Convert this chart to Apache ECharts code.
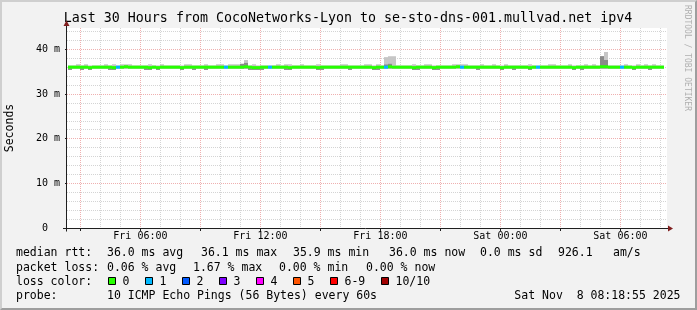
<!DOCTYPE html>
<html>
<head>
<meta charset="utf-8">
<script src="https://cdn.jsdelivr.net/npm/echarts@6.0.0/dist/echarts.min.js"></script>
<style>
html,body{margin:0;padding:0;background:#f2f2f2;overflow:hidden}
#wrap{position:relative;width:697px;height:310px}
#chart{position:absolute;left:0;top:0;width:697px;height:310px}
#frame{position:absolute;left:0;top:0;width:697px;height:310px;box-sizing:border-box;border-style:solid;border-width:2px;border-color:#cfcfcf #9e9e9e #9e9e9e #cfcfcf;pointer-events:none}
</style>
</head>
<body>
<div id="wrap"><div id="chart"></div><div id="frame"></div></div>
<script>
// ---------------- data ----------------
const titleText = 'Last 30 Hours from CocoNetworks-Lyon to se-sto-dns-001.mullvad.net ipv4';
// x axis: hours since Fri 00:00
const X_MIN = 2.33, X_MAX = 32.33;
const STEP0 = 2.38, STEP_H = 0.2;           // one RRD step = 12 min
const xTickHours  = [6, 12, 18, 24, 30];
const xTickLabels = ['Fri 06:00', 'Fri 12:00', 'Fri 18:00', 'Sat 00:00', 'Sat 06:00'];
const xMajorHours = [3, 6, 9, 12, 15, 18, 21, 24, 27, 30];
const xMinorHours = [4, 5, 7, 8, 10, 11, 13, 14, 16, 17, 19, 20, 22, 23, 25, 26, 28, 29, 31, 32];
// y axis: milliseconds
const Y_MAX = 44.77;
const yLabelValues = [0, 10, 20, 30, 40];
const yLabelTexts  = ['0  ', '10 m', '20 m', '30 m', '40 m'];
const yMajorValues = [10, 20, 30, 40];
const yMinorValues = [2, 4, 6, 8, 12, 14, 16, 18, 22, 24, 26, 28, 32, 34, 36, 38, 42, 44];

const median = [
36.0,36.0,36.0,36.0,36.0,35.9,36.0,36.0,36.0,36.0,
36.0,35.9,36.0,36.0,36.1,36.0,36.0,36.0,36.0,36.0,
35.9,36.0,35.9,36.0,36.0,36.0,36.0,36.0,35.9,36.0,
36.0,36.0,36.0,36.0,36.0,36.0,36.0,36.0,36.0,36.0,
36.0,36.0,36.0,36.0,36.1,36.0,35.9,35.9,36.0,36.0,
36.0,36.0,36.0,36.0,36.0,35.9,36.0,36.0,36.0,36.0,
36.0,36.0,35.9,36.0,36.0,36.0,36.0,36.0,36.0,36.0,
36.0,36.0,36.0,36.0,36.0,36.0,35.9,36.0,36.0,36.0,
36.1,36.0,36.0,36.0,36.0,36.0,35.9,36.0,36.0,36.0,
36.0,35.9,36.0,36.0,36.0,36.0,36.0,36.1,36.0,36.0,
36.0,36.0,36.0,36.0,36.0,36.0,36.0,36.0,35.9,36.0,
36.0,36.0,36.0,36.0,36.0,35.9,36.0,36.0,36.0,36.0,
36.0,36.0,36.0,36.0,36.0,36.0,35.9,36.0,36.0,36.0,
36.0,36.0,36.0,36.1,36.1,36.0,36.0,36.0,36.0,36.0,
36.0,35.9,36.0,36.0,36.0,36.0,36.0,36.0,36.0
];
const lossCount = [
0,0,0,0,0,0,0,0,0,0,
0,0,1,0,0,0,0,0,0,0,
0,0,0,0,0,0,0,0,0,0,
0,0,0,0,0,0,0,0,0,1,
0,0,0,0,0,0,0,0,0,0,
1,0,0,0,0,0,0,0,0,0,
0,0,0,0,0,0,0,0,0,0,
0,0,0,0,0,0,0,0,0,1,
0,0,0,0,0,0,0,0,0,0,
0,0,0,0,0,0,0,0,1,0,
0,0,0,0,0,0,0,0,0,0,
0,0,0,0,0,0,0,1,0,0,
0,0,0,0,0,0,0,0,0,0,
0,0,0,0,0,0,0,0,1,0,
0,0,0,0,0,0,0,0,0
];
const smokeHi = [
36.4,36.4,36.65,36.4,36.65,36.4,36.4,36.4,36.4,36.65,
36.4,36.65,36.4,36.65,36.65,36.65,36.4,36.4,36.4,36.4,
36.65,36.4,36.4,36.65,36.4,36.4,36.4,36.4,36.4,36.65,
36.65,36.4,36.4,36.4,36.65,36.4,36.4,36.65,36.65,36.4,
36.65,36.65,36.65,36.75,37.6,36.4,36.65,36.4,36.4,36.4,
36.4,36.4,36.65,36.4,36.65,36.65,36.4,36.4,36.65,36.4,
36.4,36.4,36.65,36.4,36.4,36.4,36.4,36.4,36.65,36.65,
36.4,36.4,36.4,36.4,36.65,36.65,36.4,36.65,36.4,38.25,
38.45,38.45,36.4,36.4,36.4,36.4,36.65,36.4,36.4,36.65,
36.65,36.4,36.4,36.4,36.4,36.4,36.65,36.65,36.65,36.65,
36.4,36.4,36.4,36.65,36.4,36.4,36.65,36.4,36.4,36.65,
36.4,36.4,36.4,36.4,36.4,36.65,36.4,36.4,36.4,36.4,
36.65,36.65,36.4,36.4,36.4,36.65,36.4,36.4,36.4,36.65,
36.4,36.65,36.4,38.5,39.4,36.4,36.4,36.4,36.4,36.65,
36.4,36.4,36.65,36.4,36.65,36.4,36.65,36.4,36.4
];
const smokeLo = [
35.4,35.6,35.6,35.4,35.6,35.4,35.6,35.6,35.6,35.6,
35.4,35.4,35.6,35.6,35.6,35.6,35.6,35.6,35.6,35.4,
35.4,35.6,35.4,35.6,35.6,35.6,35.6,35.6,35.4,35.6,
35.6,35.4,35.6,35.6,35.4,35.6,35.6,35.6,35.6,35.6,
35.6,35.6,35.6,35.6,35.6,35.4,35.4,35.4,35.4,35.6,
35.6,35.6,35.6,35.6,35.4,35.4,35.6,35.6,35.6,35.6,
35.6,35.6,35.4,35.4,35.6,35.6,35.6,35.6,35.6,35.6,
35.4,35.6,35.6,35.6,35.6,35.6,35.4,35.4,35.6,35.6,
35.6,35.6,35.6,35.6,35.6,35.6,35.4,35.4,35.6,35.6,
35.6,35.4,35.4,35.6,35.6,35.6,35.6,35.6,35.6,35.6,
35.6,35.6,35.4,35.6,35.6,35.6,35.6,35.6,35.4,35.6,
35.6,35.4,35.6,35.6,35.6,35.4,35.6,35.6,35.6,35.6,
35.6,35.6,35.6,35.6,35.6,35.6,35.4,35.6,35.4,35.6,
35.6,35.6,35.6,35.6,35.6,35.6,35.6,35.6,35.6,35.6,
35.6,35.4,35.6,35.6,35.6,35.4,35.6,35.6,35.6
];
const N = null;
const darkLo = [
35.4,N,N,35.4,N,35.4,N,N,N,N,
35.4,35.4,N,N,N,N,N,N,N,35.4,
35.4,N,35.4,N,N,N,N,N,35.4,N,
N,35.4,N,N,35.4,N,N,N,N,N,
N,N,N,35.75,35.75,35.4,35.4,35.4,35.4,N,
N,N,N,N,35.4,35.4,N,N,N,N,
N,N,35.4,35.4,N,N,N,N,N,N,
35.4,N,N,N,N,N,35.4,35.4,N,35.75,
35.75,N,N,N,N,N,35.4,35.4,N,N,
N,35.4,35.4,N,N,N,N,N,N,N,
N,N,35.4,N,N,N,N,N,35.4,N,
N,35.4,N,N,N,35.4,N,N,N,N,
N,N,N,N,N,N,35.4,N,35.4,N,
N,N,N,35.75,35.75,N,N,N,N,N,
N,35.4,N,N,N,35.4,N,N,N
];
const darkHi = [
35.75,N,N,35.75,N,35.75,N,N,N,N,
35.75,35.75,N,N,N,N,N,N,N,35.75,
35.75,N,35.75,N,N,N,N,N,35.75,N,
N,35.75,N,N,35.75,N,N,N,N,N,
N,N,N,36.75,36.95,35.75,35.75,35.75,35.75,N,
N,N,N,N,35.75,35.75,N,N,N,N,
N,N,35.75,35.75,N,N,N,N,N,N,
35.75,N,N,N,N,N,35.75,35.75,N,36.6,
36.75,N,N,N,N,N,35.75,35.75,N,N,
N,35.75,35.75,N,N,N,N,N,N,N,
N,N,35.75,N,N,N,N,N,35.75,N,
N,35.75,N,N,N,35.75,N,N,N,N,
N,N,N,N,N,N,35.75,N,35.75,N,
N,N,N,38.45,37.6,N,N,N,N,N,
N,35.75,N,N,N,35.75,N,N,N
];

// legend values
const rttValues = [36.0, 36.1, 35.9, 36.0];
const statNames = ['avg', 'max', 'min', 'now'];
const rttSd = 0.0;
const amPerSec = 926.1;
const lossPctValues = [0.06, 1.67, 0.00, 0.00];
const lossBuckets = ['0', '1', '2', '3', '4', '5', '6-9', '10/10'];
const lossColors  = ['#26ff00', '#00b8ff', '#0059ff', '#7e00ff', '#ff00ff', '#ff5500', '#ff0000', '#a00000'];
const probeText = '10 ICMP Echo Pings (56 Bytes) every 60s';
const stampText = 'Sat Nov  8 08:18:55 2025';

// ---------------- layout ----------------
const MONO = '"DejaVu Sans Mono", "Liberation Mono", monospace';
const G = {left: 67, top: 28, width: 600, height: 200};
const ROW_Y = [253.5, 268, 282, 296];
const ROW1_X = [107, 201, 293, 389];
const ROW2_X = [107, 193, 279, 366];
const BOX_X = [108.5, 145.5, 182.5, 219.5, 256.5, 293.5, 330.5, 381.5];
const GRID_MINOR = '#d4d4d4', GRID_MAJOR = '#efb0b0';

const chart = echarts.init(document.getElementById('chart'), null, {renderer: 'canvas', width: 697, height: 310});

function text(x, y, s, size, opt) {
  opt = opt || {};
  return {
    type: 'text', x: x, y: y, rotation: opt.rotation || 0, z: 20, silent: true,
    style: {
      text: s, font: size + 'px ' + MONO, fill: opt.color || '#000',
      textAlign: opt.align || 'left', align: opt.align || 'left',
      textVerticalAlign: 'middle', verticalAlign: 'middle'
    }
  };
}

const gfx = [];
gfx.push(text(348, 19, titleText, 13.3, {align: 'center'}));
gfx.push(text(687, 5, 'RRDTOOL / TOBI OETIKER', 8, {rotation: -Math.PI / 2, color: '#b0b0b0'}));
gfx.push(text(10, G.top + G.height / 2, 'Seconds', 11.5, {rotation: Math.PI / 2, align: 'center'}));

// axis lines with arrows
const AX = '#1f1f1f', ARROW = '#801f1f';
const yBase = G.top + G.height + 0.5, xBase = G.left - 0.5;
gfx.push({type: 'line', z: 20, silent: true, shape: {x1: G.left - 4, y1: yBase, x2: G.left + G.width + 1, y2: yBase}, style: {stroke: AX, lineWidth: 1}});
gfx.push({type: 'line', z: 20, silent: true, shape: {x1: xBase, y1: yBase + 3, x2: xBase, y2: G.top - 3}, style: {stroke: AX, lineWidth: 1}});
gfx.push({type: 'polygon', z: 21, silent: true, shape: {points: [[G.left + G.width + 1, yBase - 3], [G.left + G.width + 6, yBase], [G.left + G.width + 1, yBase + 3]]}, style: {fill: ARROW}});
gfx.push({type: 'polygon', z: 21, silent: true, shape: {points: [[xBase - 3, G.top - 2], [xBase, G.top - 7.5], [xBase + 3, G.top - 2]]}, style: {fill: ARROW}});

// legend rows
gfx.push(text(16, ROW_Y[0], 'median rtt:', 11.5));
rttValues.forEach((v, i) => gfx.push(text(ROW1_X[i], ROW_Y[0], v.toFixed(1) + ' ms ' + statNames[i], 11.5)));
gfx.push(text(480, ROW_Y[0], rttSd.toFixed(1) + ' ms sd', 11.5));
gfx.push(text(558, ROW_Y[0], amPerSec.toFixed(1), 11.5));
gfx.push(text(613, ROW_Y[0], 'am/s', 11.5));

gfx.push(text(16, ROW_Y[1], 'packet loss:', 11.5));
lossPctValues.forEach((v, i) => gfx.push(text(ROW2_X[i], ROW_Y[1], v.toFixed(2) + ' % ' + statNames[i], 11.5)));

gfx.push(text(16, ROW_Y[2], 'loss color:', 11.5));
lossBuckets.forEach((b, i) => {
  gfx.push({type: 'rect', z: 20, silent: true, shape: {x: BOX_X[i], y: ROW_Y[2] - 4.5, width: 7, height: 7}, style: {fill: lossColors[i], stroke: '#000', lineWidth: 1}});
  gfx.push(text(BOX_X[i] + 14, ROW_Y[2], b, 11.5));
});

gfx.push(text(16, ROW_Y[3], 'probe:', 11.5));
gfx.push(text(107, ROW_Y[3], probeText, 11.5));
gfx.push(text(680.5, ROW_Y[3], stampText, 11.5, {align: 'right'}));

// ---------------- series ----------------
function bandRenderer(color) {
  return function (params, api) {
    const x0 = api.value(0), lo = api.value(1), hi = api.value(2);
    const a = api.coord([x0, hi]);
    const b = api.coord([x0 + STEP_H, lo]);
    return {type: 'rect', shape: {x: a[0], y: a[1], width: b[0] - a[0], height: b[1] - a[1]}, style: {fill: color}};
  };
}
const lightData = median.map((m, i) => [STEP0 + i * STEP_H, smokeLo[i], smokeHi[i]]);
const darkData = [];
darkLo.forEach((v, i) => { if (v !== null) darkData.push([STEP0 + i * STEP_H, v, darkHi[i]]); });
const medianData = median.map((m, i) => [STEP0 + i * STEP_H, m, lossCount[i]]);

function axisX(extra) {
  return Object.assign({type: 'value', min: X_MIN, max: X_MAX, position: 'bottom', gridIndex: 0, axisLine: {show: false}}, extra);
}
function axisY(extra) {
  return Object.assign({type: 'value', min: 0, max: Y_MAX, position: 'left', gridIndex: 0, axisLine: {show: false}}, extra);
}

const option = {
  animation: false,
  backgroundColor: '#f2f2f2',
  textStyle: {fontFamily: MONO},
  grid: {left: G.left, top: G.top, width: G.width, height: G.height, show: true, backgroundColor: '#ffffff', borderWidth: 0, containLabel: false, outerBoundsMode: 'none'},
  xAxis: [
    axisX({
      axisTick: {show: false, customValues: xMinorHours},
      axisLabel: {show: true, customValues: xTickHours, formatter: v => xTickLabels[xTickHours.indexOf(v)], margin: 3, fontFamily: MONO, fontSize: 10, color: '#000'},
      splitLine: {show: true, lineStyle: {color: GRID_MINOR, width: 1, type: [1, 1]}}
    }),
    axisX({
      axisTick: {show: true, customValues: xMajorHours, length: 3, lineStyle: {color: AX}},
      axisLabel: {show: false},
      splitLine: {show: true, lineStyle: {color: GRID_MAJOR, width: 1, type: [1, 1]}}
    })
  ],
  yAxis: [
    axisY({
      axisTick: {show: false, customValues: yMinorValues},
      axisLabel: {show: true, customValues: yLabelValues, formatter: v => yLabelTexts[yLabelValues.indexOf(v)], margin: 7, fontFamily: MONO, fontSize: 10, color: '#000'},
      splitLine: {show: true, lineStyle: {color: GRID_MINOR, width: 1, type: [1, 1]}}
    }),
    axisY({
      axisTick: {show: true, customValues: yMajorValues, length: 2, lineStyle: {color: AX}},
      axisLabel: {show: false},
      splitLine: {show: true, lineStyle: {color: GRID_MAJOR, width: 1, type: [1, 1]}}
    })
  ],
  series: [
    {type: 'custom', name: 'smoke', xAxisIndex: 0, yAxisIndex: 0, clip: true, silent: true,
     encode: {x: 0, y: [1, 2]}, data: lightData, renderItem: bandRenderer('#c6c6c6'), z: 3},
    {type: 'custom', name: 'smoke-dense', xAxisIndex: 0, yAxisIndex: 0, clip: true, silent: true,
     encode: {x: 0, y: [1, 2]}, data: darkData, renderItem: bandRenderer('#8a8a8a'), z: 4},
    {type: 'custom', name: 'median rtt', xAxisIndex: 0, yAxisIndex: 0, clip: true, silent: true,
     encode: {x: 0, y: 1}, data: medianData, z: 5,
     renderItem: function (params, api) {
       const x0 = api.value(0), m = api.value(1), l = api.value(2);
       const a = api.coord([x0, m]);
       const b = api.coord([x0 + STEP_H, m]);
       return {type: 'rect', shape: {x: a[0], y: a[1] - 1.5, width: b[0] - a[0], height: 3}, style: {fill: lossColors[Math.min(l, lossColors.length - 1)]}};
     }}
  ],
  graphic: {elements: gfx}
};
chart.setOption(option);
</script>
</body>
</html>
